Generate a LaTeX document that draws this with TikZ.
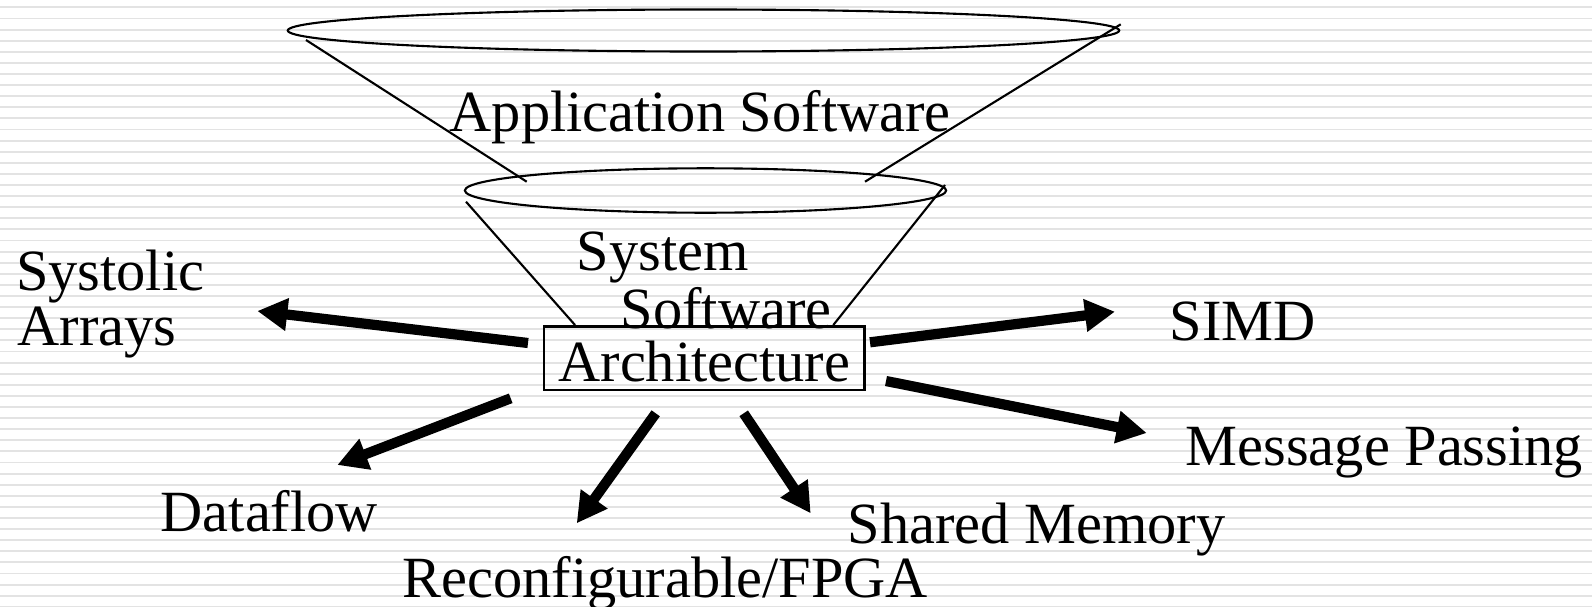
\documentclass[tikz,border=0pt]{standalone}
\usepackage{fontspec}
\setmainfont{Liberation Serif}
\usetikzlibrary{arrows.meta,shapes.geometric}
\begin{document}
\begin{tikzpicture}[x=0.01cm,y=-0.01cm,
  stripe/.style={draw=gray!22,line width=0.55pt},
  thin/.style={draw=black,line width=0.6pt},
  lbl/.style={inner sep=0pt,anchor=base west,font=\fontsize{16.6pt}{19pt}\selectfont},
  bigarrow/.style={draw=black,line width=2.9pt,-{Triangle[length=0.3cm,width=0.31cm]}},
  funnel/.style={ellipse,draw=black,line width=0.6pt,inner sep=0pt}]
\useasboundingbox (0,0) rectangle (1592,606);
\fill[white] (0,0) rectangle (1592,606);
\foreach \i in {0,...,54} \draw[stripe] (0,7.4+11.1*\i) -- (1592,7.4+11.1*\i);
% funnels
\node[funnel,minimum width=8.31cm,minimum height=0.42cm] (apptop) at (703.5,30.5) {};
\node[funnel,minimum width=4.81cm,minimum height=0.444cm] (systop) at (705.5,190.5) {};
\coordinate (a1) at (306,40);    \coordinate (a2) at (526.7,181.7);
\coordinate (a3) at (1120.7,24.3); \coordinate (a4) at (865,181.7);
\coordinate (s1) at (466,201.7); \coordinate (s2) at (575,325);
\coordinate (s3) at (945,185);   \coordinate (s4) at (833.3,325);
\draw[thin] (a1) -- (a2);
\draw[thin] (a3) -- (a4);
\draw[thin] (s1) -- (s2);
\draw[thin] (s3) -- (s4);
% texts
\node[lbl] (app) at (449,131) {Application Software};
\node[lbl] (sysA) at (576,270) {System};
\node[lbl] (sysB) at (620,328) {Software};
\node[draw=black,line width=0.7pt,inner sep=0pt,minimum width=3.2cm,text height=0.55cm,text depth=0.083cm,
      font=\fontsize{16.6pt}{19pt}\selectfont] (arch) at (704.3,358.3) {Architecture};
\node[lbl] (systA) at (15.5,290) {Systolic};
\node[lbl] (systB) at (17,345) {Arrays};
\node[lbl] (simd) at (1169,340) {SIMD};
\node[lbl] (msg) at (1185,465) {Message Passing};
\node[lbl] (df) at (160,531.7) {Dataflow};
\node[lbl] (shm) at (847,543) {Shared Memory};
\node[lbl] (rcf) at (402,597) {Reconfigurable/FPGA};
% arrows
\coordinate (t1) at (528,343);     \coordinate (h1) at (257.3,311);
\coordinate (t2) at (870,342.3);   \coordinate (h2) at (1115,311.7);
\coordinate (t3) at (886,381);     \coordinate (h3) at (1146.7,433);
\coordinate (t4) at (510.7,398.3); \coordinate (h4) at (337.3,465);
\coordinate (t5) at (655.7,413.3); \coordinate (h5) at (576.7,523.3);
\coordinate (t6) at (743.7,413.3); \coordinate (h6) at (810.7,513.3);
\draw[bigarrow] (t1) -- (h1);
\draw[bigarrow] (t2) -- (h2);
\draw[bigarrow] (t3) -- (h3);
\draw[bigarrow] (t4) -- (h4);
\draw[bigarrow] (t5) -- (h5);
\draw[bigarrow] (t6) -- (h6);
\end{tikzpicture}
\end{document}
